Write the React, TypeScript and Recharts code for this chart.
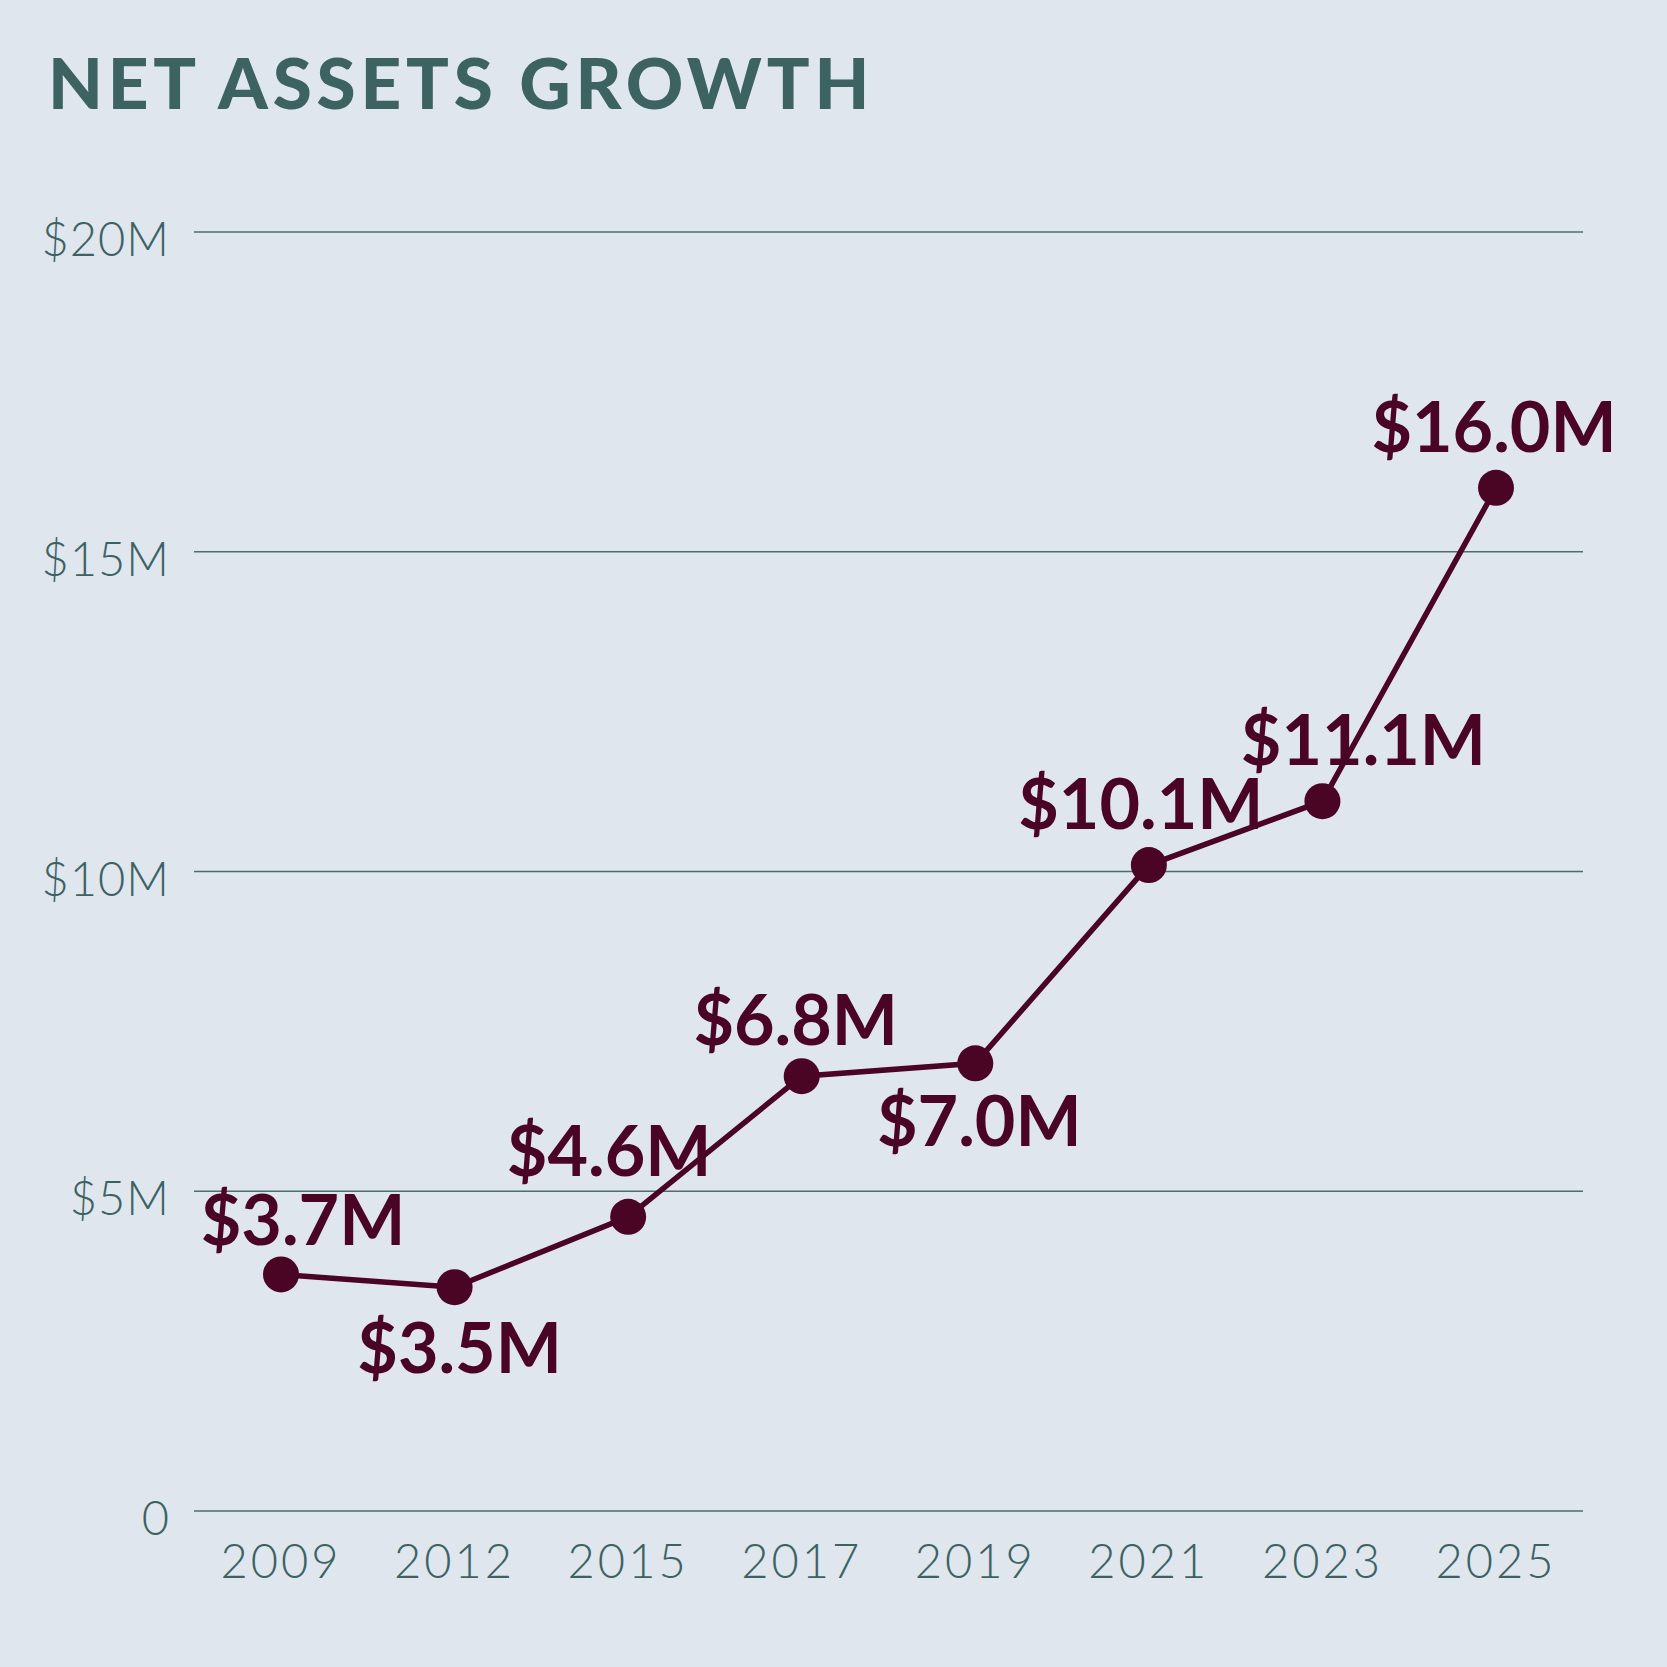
import {
  CartesianGrid,
  LabelList,
  Line,
  LineChart,
  XAxis,
  YAxis,
} from "recharts";

const years = ["2009", "2012", "2015", "2017", "2019", "2021", "2023", "2025"];
const netAssets = [3.7, 3.5, 4.6, 6.8, 7.0, 10.1, 11.1, 16.0];
const yTicks = [0, 5, 10, 15, 20];

// where each value label sits relative to its dot
const labelPlacement = [
  { dx: 22, dy: -29 },
  { dx: 5, dy: 86 },
  { dx: -19, dy: -41 },
  { dx: -6, dy: -31 },
  { dx: 4, dy: 83 },
  { dx: -8, dy: -36 },
  { dx: 41, dy: -36 },
  { dx: -2, dy: -36 },
];

const BG = "#dfe6ee";
const TEAL = "#3c6262";
const MAROON = "#4a0424";

const chartData = years.map((year, i) => ({ year, value: netAssets[i] }));

const formatMoney = (v: number) => (v === 0 ? "0" : `$${v}M`);

function YTick(props: any) {
  const { y, payload } = props;
  return (
    <text
      x={170}
      y={y + 24}
      textAnchor="end"
      fill={TEAL}
      fontFamily="Lato"
      fontWeight={300}
      fontSize={47}
      letterSpacing={1}
    >
      {formatMoney(payload.value)}
    </text>
  );
}

function XTick(props: any) {
  const { x, y, payload } = props;
  return (
    <text
      x={x}
      y={y + 59}
      textAnchor="middle"
      fill={TEAL}
      fontFamily="Lato"
      fontWeight={300}
      fontSize={47}
      letterSpacing={3}
    >
      {payload.value}
    </text>
  );
}

function ValueLabel(props: any) {
  const { x, y, value, index } = props;
  const place = labelPlacement[index] ?? { dx: 0, dy: -36 };
  return (
    <text
      x={x + place.dx}
      y={y + place.dy}
      textAnchor="middle"
      fill={MAROON}
      fontFamily="Lato"
      fontWeight={700}
      fontSize={70}
    >
      {`$${Number(value).toFixed(1)}M`}
    </text>
  );
}

export default function App() {
  return (
    <div
      style={{
        position: "absolute",
        top: 0,
        left: 0,
        width: 1667,
        height: 1667,
        background: BG,
        overflow: "hidden",
      }}
    >
      <div
        style={{
          position: "absolute",
          left: 48,
          top: 39,
          color: TEAL,
          fontFamily: "Lato",
          fontWeight: 900,
          fontSize: 71,
          letterSpacing: 4.8,
          lineHeight: "85px",
          whiteSpace: "nowrap",
        }}
      >
        NET ASSETS GROWTH
      </div>
      <LineChart
        width={1667}
        height={1667}
        data={chartData}
        margin={{ top: 232, right: 84, bottom: 56, left: 0 }}
      >
        <CartesianGrid
          vertical={false}
          stroke="#4d6e6e"
          strokeWidth={1.5}
        />
        <XAxis
          dataKey="year"
          axisLine={false}
          tickLine={false}
          height={100}
          padding={{ left: 87, right: 87 }}
          tick={<XTick />}
        />
        <YAxis
          domain={[0, 20]}
          ticks={yTicks}
          width={194}
          axisLine={false}
          tickLine={false}
          tick={<YTick />}
        />
        <Line
          dataKey="value"
          stroke={MAROON}
          strokeWidth={5.5}
          dot={{ r: 18, fill: MAROON, stroke: "none" }}
          activeDot={false}
          isAnimationActive={false}
        >
          <LabelList dataKey="value" content={<ValueLabel />} />
        </Line>
      </LineChart>
    </div>
  );
}
